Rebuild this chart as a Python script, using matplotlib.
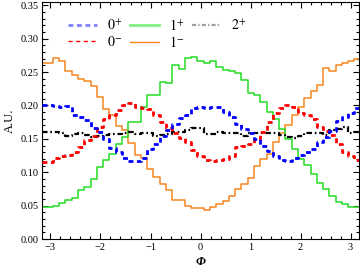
import matplotlib
matplotlib.use("Agg")
import matplotlib.pyplot as plt
from matplotlib.lines import Line2D
from matplotlib.ticker import MultipleLocator, FormatStrFormatter
import numpy as np

plt.rcParams.update({
    "font.family": "serif",
    "font.serif": ["Liberation Serif", "DejaVu Serif"],
    "mathtext.fontset": "stix",
    "lines.scale_dashes": False,
})

n_bins = 50
phi = -np.pi + (np.arange(n_bins) + 0.5) * 2 * np.pi / n_bins

# 0+ (blue)
y_0p = [0.201, 0.199, 0.198, 0.199, 0.185, 0.182, 0.178, 0.166, 0.160, 0.150,
        0.137, 0.130, 0.122, 0.117, 0.117, 0.122, 0.135, 0.143, 0.155, 0.163,
        0.172, 0.181, 0.186, 0.196, 0.198, 0.196, 0.198, 0.197, 0.190, 0.183,
        0.172, 0.165, 0.158, 0.150, 0.140, 0.132, 0.125, 0.118, 0.117, 0.121,
        0.126, 0.130, 0.135, 0.145, 0.153, 0.162, 0.176, 0.183, 0.188, 0.196]
# 0- (red)
y_0m = [0.116, 0.122, 0.125, 0.126, 0.130, 0.138, 0.148, 0.155, 0.168, 0.180,
        0.186, 0.193, 0.200, 0.203, 0.198, 0.196, 0.194, 0.185, 0.175, 0.166,
        0.158, 0.152, 0.145, 0.133, 0.124, 0.118, 0.117, 0.118, 0.120, 0.125,
        0.138, 0.139, 0.143, 0.150, 0.160, 0.175, 0.188, 0.196, 0.200, 0.198,
        0.188, 0.185, 0.180, 0.168, 0.162, 0.156, 0.143, 0.130, 0.124, 0.119]
# 1+ (green)
y_1p = [0.048, 0.050, 0.054, 0.058, 0.062, 0.074, 0.078, 0.090, 0.108, 0.119,
        0.128, 0.142, 0.153, 0.175, 0.175, 0.197, 0.216, 0.216, 0.235, 0.233,
        0.260, 0.255, 0.271, 0.273, 0.267, 0.263, 0.267, 0.258, 0.253, 0.251,
        0.249, 0.238, 0.218, 0.215, 0.205, 0.190, 0.180, 0.165, 0.150, 0.135,
        0.120, 0.111, 0.097, 0.084, 0.075, 0.064, 0.056, 0.052, 0.048, 0.048]
# 1- (orange)
y_1m = [0.263, 0.271, 0.266, 0.252, 0.246, 0.240, 0.237, 0.229, 0.213, 0.194,
        0.186, 0.169, 0.163, 0.144, 0.126, 0.122, 0.105, 0.093, 0.083, 0.073,
        0.059, 0.059, 0.050, 0.047, 0.046, 0.043, 0.048, 0.052, 0.057, 0.065,
        0.075, 0.083, 0.091, 0.109, 0.120, 0.128, 0.145, 0.158, 0.170, 0.186,
        0.198, 0.211, 0.222, 0.231, 0.256, 0.252, 0.261, 0.263, 0.266, 0.269]
# 2+ (black)
y_2p = [0.160, 0.160, 0.158, 0.155, 0.157, 0.158, 0.156, 0.153, 0.155, 0.156,
        0.157, 0.157, 0.159, 0.160, 0.157, 0.158, 0.158, 0.155, 0.156, 0.157,
        0.160, 0.160, 0.163, 0.166, 0.166, 0.157, 0.157, 0.160, 0.158, 0.159,
        0.158, 0.155, 0.158, 0.158, 0.158, 0.158, 0.158, 0.156, 0.153, 0.152,
        0.155, 0.158, 0.159, 0.158, 0.156, 0.163, 0.165, 0.168, 0.159, 0.160]

xmin, xmax = -3.16, 3.16

fig = plt.figure(figsize=(3.6, 2.76), dpi=100)
ax = fig.add_axes([0.118, 0.134, 0.878, 0.859])


def step(y, **kw):
    x = np.concatenate([[xmin], phi[1:], [xmax]])
    yy = np.concatenate([y, [y[-1]]])
    ax.plot(x, yy, drawstyle="steps-post", **kw)


step(y_1m, color="#f7851e", lw=1.1, zorder=2)
step(y_1p, color="#22dd22", lw=1.1, zorder=2)
step(y_2p, color="black", lw=1.6, dashes=(4, 2, 1.2, 2), zorder=3)
step(y_0m, color="#ff0000", lw=2.0, dashes=(3.5, 2.6), zorder=4)
step(y_0p, color="#0000ff", lw=2.0, dashes=(3.5, 2.6), zorder=5)

ax.set_xlim(xmin, xmax)
ax.set_ylim(0, 0.355)
ax.xaxis.set_major_locator(MultipleLocator(1))
ax.xaxis.set_minor_locator(MultipleLocator(0.2))
ax.yaxis.set_major_locator(MultipleLocator(0.05))
ax.yaxis.set_minor_locator(MultipleLocator(0.01))
ax.yaxis.set_major_formatter(FormatStrFormatter("%.2f"))
ax.tick_params(which="both", direction="in", top=True, right=True,
               labelsize=7.5, width=0.8, pad=3)
ax.tick_params(which="major", length=4)
ax.tick_params(which="minor", length=2)
for s in ax.spines.values():
    s.set_linewidth(0.8)

ax.set_ylabel("A.U.", fontsize=9, labelpad=3)
ax.set_xlabel("Φ", fontsize=9, fontstyle="italic", fontweight="bold", labelpad=3)

handles = [
    Line2D([], [], color="#8080ff", lw=2.0, dashes=(3.5, 2.6)),
    Line2D([], [], color="#ff0000", lw=1.0, dashes=(3, 2.5)),
    Line2D([], [], color="#80ee80", lw=2.0),
    Line2D([], [], color="#f7851e", lw=1.0),
    Line2D([], [], color="#a0a0a0", lw=1.6, dashes=(3, 1.5, 1, 1.5)),
]
labels = ["$0^{+}$", "$0^{-}$", "$1^{+}$", "$1^{-}$", "$2^{+}$"]
ax.legend(handles, labels, ncol=3, loc="upper left", bbox_to_anchor=(0.05, 0.975),
          frameon=False, fontsize=10, handlelength=2.1, handletextpad=0.7,
          columnspacing=0.55, labelspacing=0.15, borderpad=0.2)

fig.savefig("out.png", dpi=100, facecolor="white")
